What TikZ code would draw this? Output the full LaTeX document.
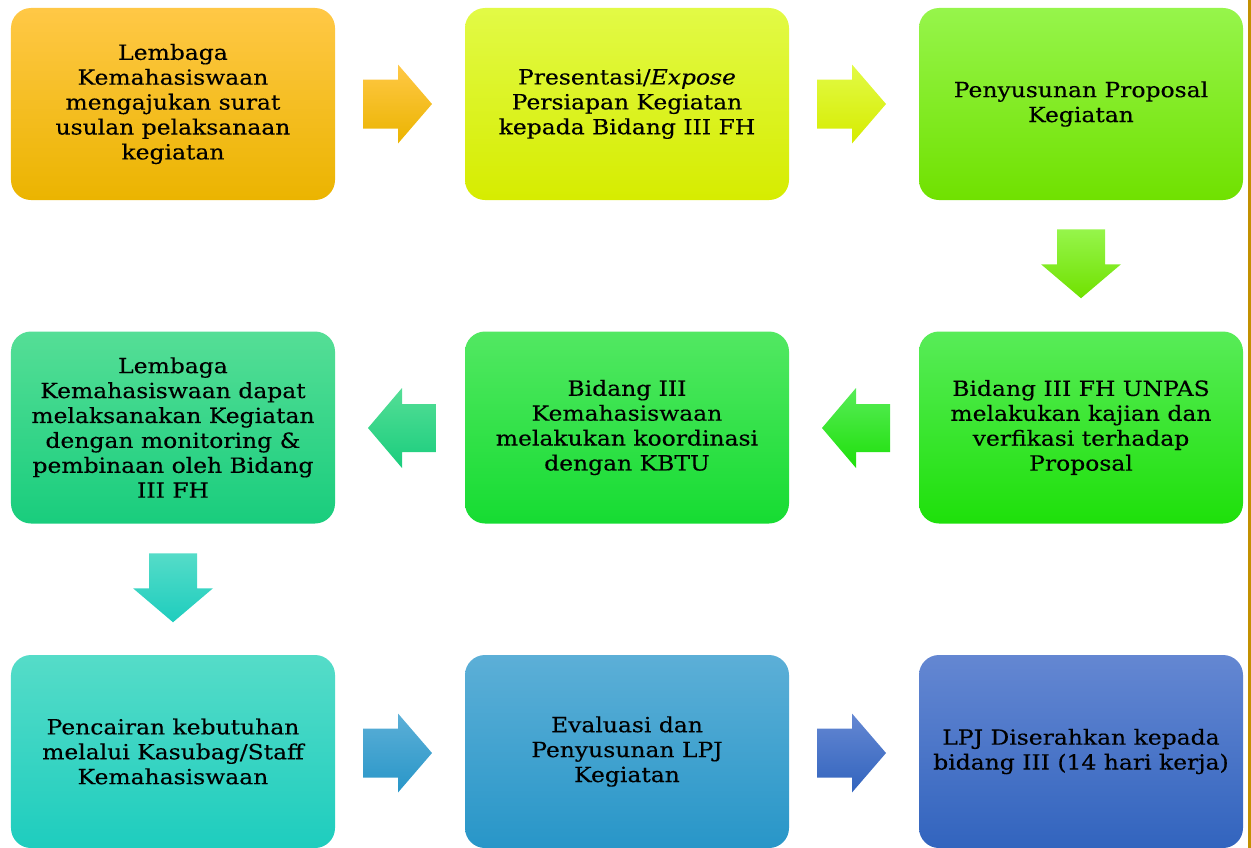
\documentclass[tikz,border=0pt]{standalone}
\usepackage{fontspec}
\setmainfont[FakeStretch=1.12, FakeBold=0.25]{DejaVu Serif}
\usetikzlibrary{calc}
% box gradients: top / middle / bottom
\definecolor{c1t}{RGB}{255,200,70}\definecolor{c1m}{RGB}{255,192,0}\definecolor{c1b}{RGB}{235,180,0}
\definecolor{c2t}{RGB}{226,250,70}\definecolor{c2m}{RGB}{224,255,0}\definecolor{c2b}{RGB}{214,236,0}
\definecolor{c3t}{RGB}{150,245,75}\definecolor{c3m}{RGB}{128,245,10}\definecolor{c3b}{RGB}{112,225,0}
\definecolor{c6t}{RGB}{88,236,88}\definecolor{c6m}{RGB}{45,234,30}\definecolor{c6b}{RGB}{30,224,10}
\definecolor{c5t}{RGB}{82,232,98}\definecolor{c5m}{RGB}{40,230,70}\definecolor{c5b}{RGB}{22,220,50}
\definecolor{c4t}{RGB}{85,222,150}\definecolor{c4m}{RGB}{40,222,135}\definecolor{c4b}{RGB}{25,205,125}
\definecolor{c7t}{RGB}{85,220,200}\definecolor{c7m}{RGB}{45,215,200}\definecolor{c7b}{RGB}{30,205,190}
\definecolor{c8t}{RGB}{92,175,215}\definecolor{c8m}{RGB}{52,162,210}\definecolor{c8b}{RGB}{40,150,200}
\definecolor{c9t}{RGB}{100,135,210}\definecolor{c9m}{RGB}{72,115,200}\definecolor{c9b}{RGB}{50,100,190}
\definecolor{edgeline}{RGB}{195,145,0}
\begin{document}
\begin{tikzpicture}[x=1bp,y=-1bp,
  stepbox/.style={rounded corners=20bp, minimum width=324bp, minimum height=192bp,
    inner sep=0pt, align=center, text=black, font=\fontsize{21}{25}\selectfont},
  grad/.style n args={3}{top color=#1, middle color=#2, bottom color=#3},
]
\useasboundingbox (0,0) rectangle (1251,848);

% process steps
\node[stepbox, grad={c1t}{c1m}{c1b}] (b1) at (173,104)
  {Lembaga\\Kemahasiswaan\\mengajukan surat\\usulan pelaksanaan\\kegiatan};
\node[stepbox, grad={c2t}{c2m}{c2b}] (b2) at (627,104)
  {Presentasi/\textit{Expose}\\Persiapan Kegiatan\\kepada Bidang III FH};
\node[stepbox, grad={c3t}{c3m}{c3b}] (b3) at (1081,104)
  {Penyusunan Proposal\\Kegiatan};
\node[stepbox, grad={c6t}{c6m}{c6b}] (b6) at (1081,427.5)
  {Bidang III FH UNPAS\\melakukan kajian dan\\verfikasi terhadap\\Proposal};
\node[stepbox, grad={c5t}{c5m}{c5b}] (b5) at (627,427.5)
  {Bidang III\\Kemahasiswaan\\melakukan koordinasi\\dengan KBTU};
\node[stepbox, grad={c4t}{c4m}{c4b}] (b4) at (173,427.5)
  {Lembaga\\Kemahasiswaan dapat\\melaksanakan Kegiatan\\dengan monitoring \&\\pembinaan oleh Bidang\\III FH};
\node[stepbox, minimum height=193bp, grad={c7t}{c7m}{c7b}] (b7) at (173,751.5)
  {Pencairan kebutuhan\\melalui Kasubag/Staff\\Kemahasiswaan};
\node[stepbox, minimum height=193bp, grad={c8t}{c8m}{c8b}] (b8) at (627,751.5)
  {Evaluasi dan\\Penyusunan LPJ\\Kegiatan};
\node[stepbox, minimum height=193bp, grad={c9t}{c9m}{c9b}] (b9) at (1081,751.5)
  {LPJ Diserahkan kepada\\bidang III (14 hari kerja)};

% arrow anchors between neighbouring steps
\coordinate (m12) at ($(b1.east)!0.5!(b2.west)+(-2.5,0)$);
\coordinate (m23) at ($(b2.east)!0.5!(b3.west)+(-2.5,0)$);
\coordinate (m36) at ($(b3.south)!0.5!(b6.north)+(0,-2)$);
\coordinate (m65) at ($(b6.west)!0.5!(b5.east)+(2,0.5)$);
\coordinate (m54) at ($(b5.west)!0.5!(b4.east)+(2,0.5)$);
\coordinate (m47) at ($(b4.south)!0.5!(b7.north)+(0,-1.5)$);
\coordinate (m78) at ($(b7.east)!0.5!(b8.west)+(-2.5,1.5)$);
\coordinate (m89) at ($(b8.east)!0.5!(b9.west)+(-2.5,1.5)$);

% block arrows
\path[grad={c1t}{c1m}{c1b}] (m12) ++(-34.5,-24.5) -- ++(35,0) -- ++(0,-15) -- ++(34,39.5)
  -- ++(-34,39.5) -- ++(0,-15) -- ++(-35,0) -- cycle;
\path[grad={c2t}{c2m}{c2b}] (m23) ++(-34.5,-24.5) -- ++(35,0) -- ++(0,-15) -- ++(34,39.5)
  -- ++(-34,39.5) -- ++(0,-15) -- ++(-35,0) -- cycle;
\path[grad={c3t}{c3m}{c3b}] (m36) ++(-24,-34.5) -- ++(48,0) -- ++(0,35) -- ++(16,0)
  -- ++(-40,34) -- ++(-40,-34) -- ++(16,0) -- cycle;
\path[grad={c6t}{c6m}{c6b}] (m65) ++(34,-24) -- ++(-34,0) -- ++(0,-16) -- ++(-34,40)
  -- ++(34,40) -- ++(0,-16) -- ++(34,0) -- cycle;
\path[grad={c4t}{c4m}{c4b}] (m54) ++(34,-24) -- ++(-34,0) -- ++(0,-16) -- ++(-34,40)
  -- ++(34,40) -- ++(0,-16) -- ++(34,0) -- cycle;
\path[grad={c7t}{c7m}{c7b}] (m47) ++(-24,-34.5) -- ++(48,0) -- ++(0,35) -- ++(16,0)
  -- ++(-40,34) -- ++(-40,-34) -- ++(16,0) -- cycle;
\path[grad={c8t}{c8m}{c8b}] (m78) ++(-34.5,-24.5) -- ++(35,0) -- ++(0,-15) -- ++(34,39.5)
  -- ++(-34,39.5) -- ++(0,-15) -- ++(-35,0) -- cycle;
\path[grad={c9t}{c9m}{c9b}] (m89) ++(-34.5,-24.5) -- ++(35,0) -- ++(0,-15) -- ++(34,39.5)
  -- ++(-34,39.5) -- ++(0,-15) -- ++(-35,0) -- cycle;

% page edge rule
\draw[edgeline, line width=3bp] (1249.5,0) -- (1249.5,848);
\end{tikzpicture}
\end{document}
